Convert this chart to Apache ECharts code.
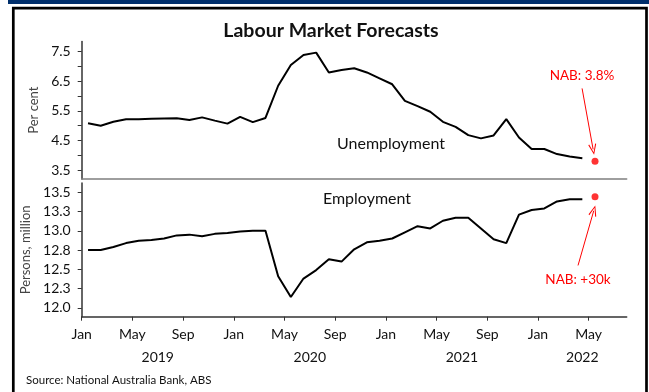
<!DOCTYPE html>
<html>
<head>
<meta charset="utf-8">
<script src="https://cdn.jsdelivr.net/npm/echarts@6/dist/echarts.min.js"></script>
<style>
html,body{margin:0;padding:0;background:#fff;}
#chart{width:649px;height:392px;}
</style>
</head>
<body>
<div id="chart"></div>
<script>
// Month names for x labels (month index 0 = Jan 2019)
var monthNames = ['Jan','Feb','Mar','Apr','May','Jun','Jul','Aug','Sep','Oct','Nov','Dec'];
var startYear = 2019;
var yearLabelPositions = [6, 18, 30, 39.5];

// Unemployment rate, per cent, Jan 2019 - Apr 2022
var unemployment = [
  5.08, 5.00, 5.13, 5.22, 5.22, 5.23, 5.24, 5.25, 5.19, 5.28, 5.17, 5.07,
  5.30, 5.12, 5.26, 6.35, 7.05, 7.39, 7.47, 6.80, 6.88, 6.94, 6.80, 6.60,
  6.40, 5.84, 5.66, 5.47, 5.13, 4.96, 4.68, 4.57, 4.67, 5.22, 4.60, 4.21,
  4.21, 4.04, 3.96, 3.90
];
// Employment, persons million, Jan 2019 - Apr 2022
var employment = [
  12.75, 12.75, 12.79, 12.84, 12.87, 12.88, 12.90, 12.94, 12.95, 12.93, 12.96, 12.97,
  12.99, 13.00, 13.00, 12.41, 12.14, 12.38, 12.49, 12.63, 12.60, 12.76, 12.85, 12.87,
  12.90, 12.98, 13.06, 13.03, 13.13, 13.17, 13.17, 13.03, 12.89, 12.84, 13.21, 13.27,
  13.29, 13.38, 13.41, 13.41
];
// NAB forecasts (May 2022)
var forecastMonth = 40;
var unemploymentForecast = 3.8;
var employmentForecast = 13.44;

// Axis tick values
var topTicks = [3.5, 4, 4.5, 5, 5.5, 6, 6.5, 7, 7.5];
var topLabels = [3.5, 4.5, 5.5, 6.5, 7.5];
var bottomTicks = [12, 12.25, 12.5, 12.75, 13, 13.25, 13.5];

// Annotation arrows [start, end] in data coordinates
var topArrow = [[39.48, 6.26], [40.35, 4.2]];
var bottomArrow = [[39.16, 12.55], [40.40, 13.26]];

function toPoints(arr) {
  return arr.map(function (v, i) { return [i + 0.5, v]; });
}

var FONT = 'Lato';
var chevron = 'path://M5,0 L10,10 L8.8,10.6 L5,2.4 L1.2,10.6 L0,10 Z';

var chart = echarts.init(document.getElementById('chart'));
var option = {
  animation: false,
  textStyle: { fontFamily: FONT },
  grid: [
    { left: 81.7, right: 22.3, top: 41.4, height: 137.5 },
    { left: 81.7, right: 22.3, top: 183, height: 133.7 }
  ],
  xAxis: [
    {
      gridIndex: 0, type: 'value', min: 0, max: 43,
      axisLine: { lineStyle: { color: '#7f7f7f', width: 1.5 } },
      axisTick: { show: false }, axisLabel: { show: false }, splitLine: { show: false }
    },
    {
      gridIndex: 1, type: 'value', min: 0, max: 43, interval: 4,
      axisLine: { lineStyle: { color: '#333', width: 1.5 } },
      axisTick: { show: true, length: 4, lineStyle: { color: '#333' } },
      axisLabel: {
        color: '#111', fontSize: 14, margin: 11, fontFamily: FONT,
        showMaxLabel: false,
        formatter: function (v) { return monthNames[Math.round(v) % 12]; }
      },
      splitLine: { show: false }
    },
    {
      gridIndex: 1, type: 'value', min: 0, max: 43, position: 'bottom',
      axisLine: { show: false }, axisTick: { show: false }, splitLine: { show: false },
      axisLabel: {
        customValues: yearLabelPositions,
        color: '#111', fontSize: 14, margin: 34, fontFamily: FONT,
        formatter: function (v) { return String(startYear + Math.floor(v / 12)); }
      }
    }
  ],
  yAxis: [
    {
      gridIndex: 0, type: 'value', min: 3.2, max: 7.85,
      name: 'Per cent', nameLocation: 'middle', nameGap: 36,
      nameTextStyle: { fontSize: 13, color: '#444', fontFamily: FONT },
      axisLine: { show: true, lineStyle: { color: '#333', width: 1.5 } },
      axisTick: { show: true, length: 4, customValues: topTicks, lineStyle: { color: '#333' } },
      axisLabel: {
        customValues: topLabels, color: '#111', fontSize: 14, margin: 11, fontFamily: FONT,
        formatter: function (v) { return v.toFixed(1); }
      },
      splitLine: { show: false }
    },
    {
      gridIndex: 1, type: 'value', min: 11.885, max: 13.62,
      name: 'Persons, million', nameLocation: 'middle', nameGap: 44,
      nameTextStyle: { fontSize: 13, color: '#444', fontFamily: FONT },
      axisLine: { show: true, lineStyle: { color: '#333', width: 1.5 } },
      axisTick: { show: true, length: 4, customValues: bottomTicks, lineStyle: { color: '#333' } },
      axisLabel: {
        customValues: bottomTicks, color: '#111', fontSize: 14, margin: 11, fontFamily: FONT,
        formatter: function (v) { return v.toFixed(1); }
      },
      splitLine: { show: false }
    }
  ],
  series: [
    {
      type: 'line', xAxisIndex: 0, yAxisIndex: 0, data: toPoints(unemployment),
      showSymbol: false, lineStyle: { color: '#000', width: 2 }, silent: true
    },
    {
      type: 'scatter', xAxisIndex: 0, yAxisIndex: 0,
      data: [[forecastMonth + 0.5, unemploymentForecast]],
      symbolSize: 7, itemStyle: { color: '#ff0000' }, silent: true,
      markLine: {
        silent: true, symbol: ['none', chevron], symbolSize: [8, 11],
        lineStyle: { color: '#ff0000', width: 1, type: 'solid' },
        label: { show: false },
        data: [[{ coord: topArrow[0] }, { coord: topArrow[1] }]]
      }
    },
    {
      type: 'line', xAxisIndex: 1, yAxisIndex: 1, data: toPoints(employment),
      showSymbol: false, lineStyle: { color: '#000', width: 2 }, silent: true
    },
    {
      type: 'scatter', xAxisIndex: 1, yAxisIndex: 1,
      data: [[forecastMonth + 0.5, employmentForecast]],
      symbolSize: 7, itemStyle: { color: '#ff0000' }, silent: true,
      markLine: {
        silent: true, symbol: ['none', chevron], symbolSize: [8, 11],
        lineStyle: { color: '#ff0000', width: 1, type: 'solid' },
        label: { show: false },
        data: [[{ coord: bottomArrow[0] }, { coord: bottomArrow[1] }]]
      }
    }
  ],
  graphic: [
    { type: 'rect', shape: { x: 8, y: 0, width: 641, height: 4 }, style: { fill: '#002f6c' }, silent: true },
    { type: 'rect', shape: { x: 13.3, y: 8.2, width: 633.2, height: 400 }, style: { fill: 'none', stroke: '#000', lineWidth: 2.7 }, silent: true },
    { type: 'text', x: 331, y: 31, style: { text: 'Labour Market Forecasts', font: 'bold 19.5px ' + FONT, fill: '#111', textAlign: 'center', textVerticalAlign: 'middle' }, silent: true },
    { type: 'text', x: 391, y: 144, style: { text: 'Unemployment', font: '16px ' + FONT, fill: '#111', textAlign: 'center', textVerticalAlign: 'middle' }, silent: true },
    { type: 'text', x: 367, y: 199, style: { text: 'Employment', font: '16px ' + FONT, fill: '#111', textAlign: 'center', textVerticalAlign: 'middle' }, silent: true },
    { type: 'text', x: 582, y: 76, style: { text: 'NAB: 3.8%', font: '13.5px ' + FONT, fill: '#ff0000', textAlign: 'center', textVerticalAlign: 'middle' }, silent: true },
    { type: 'text', x: 578, y: 280, style: { text: 'NAB: +30k', font: '13.5px ' + FONT, fill: '#ff0000', textAlign: 'center', textVerticalAlign: 'middle' }, silent: true },
    { type: 'text', x: 26, y: 380, style: { text: 'Source: National Australia Bank, ABS', font: '11.5px ' + FONT, fill: '#111', textAlign: 'left', textVerticalAlign: 'middle' }, silent: true }
  ]
};
chart.setOption(option);
</script>
</body>
</html>
